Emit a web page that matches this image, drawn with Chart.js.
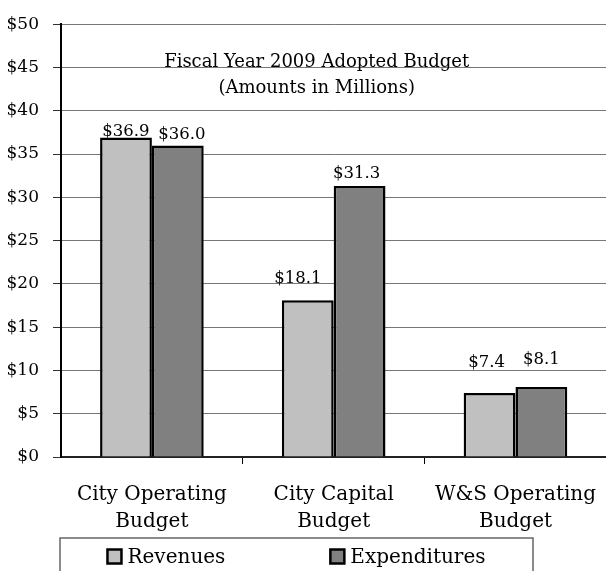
<!DOCTYPE html>
<html>
<head>
<meta charset="utf-8">
<script src="https://cdn.jsdelivr.net/npm/chart.js@4.4.1/dist/chart.umd.min.js"></script>
<style>
  html, body { margin: 0; padding: 0; background: #fff; overflow: hidden; }
  #wrap { width: 613px; height: 571px; }
</style>
</head>
<body>
<div id="wrap"><canvas id="budgetChart" width="613" height="571"></canvas></div>
<script>
var categories = [['City Operating', 'Budget'], ['City Capital', 'Budget'], ['W&S Operating', 'Budget']];
var revenues = [36.9, 18.1, 7.4];
var expenditures = [36.0, 31.3, 8.1];
var yTicks = [0, 5, 10, 15, 20, 25, 30, 35, 40, 45, 50];
var titleLines = ['Fiscal Year 2009 Adopted Budget', '(Amounts in Millions)'];

// label placement tweaks (px), like the original where labels dodge gridlines
var labelLift = [[2, 17, 26], [6, 8, 23]];
var labelShift = [[0, -10, -3], [4, -3, 0]];

var serif = 'DejaVu Serif';

var valueLabels = {
    id: 'valueLabels',
    afterDatasetsDraw: function (chart) {
        var ctx = chart.ctx;
        ctx.save();
        ctx.font = '16.5px "' + serif + '"';
        ctx.fillStyle = '#000';
        ctx.textAlign = 'center';
        ctx.textBaseline = 'alphabetic';
        chart.data.datasets.forEach(function (ds, d) {
            chart.getDatasetMeta(d).data.forEach(function (bar, i) {
                ctx.fillText('$' + ds.data[i].toFixed(1), bar.x + labelShift[d][i], bar.y - labelLift[d][i]);
            });
        });
        ctx.restore();
    }
};

var innerTitle = {
    id: 'innerTitle',
    afterDraw: function (chart) {
        var ctx = chart.ctx;
        var a = chart.chartArea;
        var y0 = chart.scales.y.getPixelForValue(45);
        ctx.save();
        ctx.font = '18px "' + serif + '"';
        ctx.fillStyle = '#000';
        ctx.textAlign = 'center';
        ctx.textBaseline = 'alphabetic';
        ctx.fillText(titleLines[0], (a.left + a.right) / 2 - 17, y0);
        ctx.fillText(titleLines[1], (a.left + a.right) / 2 - 17, y0 + 26);
        ctx.restore();
    }
};

var boxedLegend = {
    id: 'boxedLegend',
    afterDraw: function (chart) {
        var ctx = chart.ctx;
        var left = 60, right = 533, top = 538;
        ctx.save();
        ctx.strokeStyle = '#666';
        ctx.lineWidth = 1.5;
        ctx.beginPath();
        ctx.moveTo(left, chart.height + 5);
        ctx.lineTo(left, top);
        ctx.lineTo(right, top);
        ctx.lineTo(right, chart.height + 5);
        ctx.stroke();

        ctx.font = '20px "' + serif + '"';
        var gap = 105, box = 14, boxGap = 6;
        var items = chart.data.datasets.map(function (ds) {
            return { ds: ds, w: box + boxGap + ctx.measureText(ds.label).width };
        });
        var total = items.reduce(function (s, it) { return s + it.w; }, 0) + gap * (items.length - 1);
        var x = (left + right) / 2 - total / 2;
        items.forEach(function (it) {
            ctx.fillStyle = it.ds.backgroundColor;
            ctx.fillRect(x, 549.5, box, box);
            ctx.strokeStyle = '#000';
            ctx.lineWidth = 2.5;
            ctx.strokeRect(x, 549.5, box, box);
            ctx.fillStyle = '#000';
            ctx.textAlign = 'left';
            ctx.textBaseline = 'alphabetic';
            ctx.fillText(it.ds.label, x + box + boxGap, 563);
            x += it.w + gap;
        });
        ctx.restore();
    }
};

var ctx = document.getElementById('budgetChart').getContext('2d');
var budgetChart = new Chart(ctx, {
    type: 'bar',
    data: {
        labels: categories,
        datasets: [{
            label: 'Revenues',
            data: revenues,
            backgroundColor: '#c0c0c0',
            borderColor: '#000',
            borderWidth: 2.5,
            categoryPercentage: 0.57,
            barPercentage: 1
        }, {
            label: 'Expenditures',
            data: expenditures,
            backgroundColor: '#808080',
            borderColor: '#000',
            borderWidth: 2.5,
            categoryPercentage: 0.57,
            barPercentage: 1
        }]
    },
    options: {
        responsive: false,
        animation: false,
        layout: { padding: { top: 15, right: 0, bottom: 0, left: 0 } },
        plugins: {
            legend: { display: false },
            tooltip: { enabled: false }
        },
        scales: {
            x: {
                afterFit: function (scale) { scale.height = 114; },
                grid: {
                    offset: true,
                    drawOnChartArea: false,
                    tickLength: 7,
                    color: function (c) { return c.index === 0 ? 'rgba(0,0,0,0)' : '#000'; }
                },
                border: { color: '#222', width: 2 },
                ticks: {
                    color: '#000',
                    padding: 17,
                    maxRotation: 0,
                    font: { family: serif, size: 20, lineHeight: 1.375 }
                }
            },
            y: {
                min: 0,
                max: 50,
                afterFit: function (scale) { scale.width = 61; },
                afterBuildTicks: function (scale) {
                    scale.ticks = yTicks.map(function (v) { return { value: v }; });
                },
                grid: {
                    color: '#777',
                    lineWidth: 1,
                    tickLength: 8,
                    tickColor: '#333'
                },
                border: { color: '#000', width: 2 },
                ticks: {
                    color: '#000',
                    padding: 14,
                    font: { family: serif, size: 17 },
                    callback: function (v) { return '$' + v; }
                }
            }
        }
    },
    plugins: [valueLabels, innerTitle, boxedLegend]
});
</script>
</body>
</html>
